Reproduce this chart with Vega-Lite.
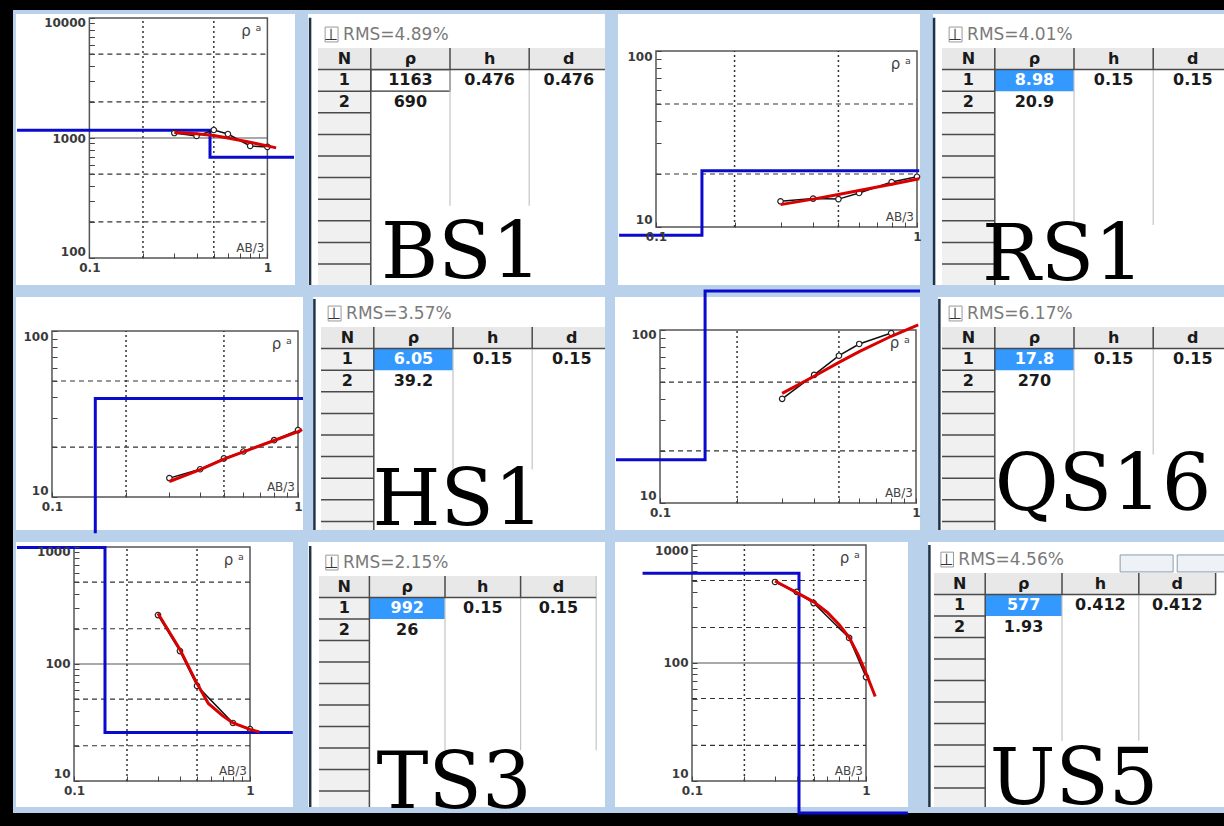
{
"$schema": "https://vega.github.io/schema/vega-lite/v6.json",
"background": "black",
"padding": {"left": 10, "top": 10, "right": 0, "bottom": 13},
"config": {
 "view": {"fill": "#b9d1ea", "stroke": null},
 "axis": {"zindex": 1, "domain": false, "grid": false, "labelFont": "DejaVu Sans", "labelFontWeight": "bold", "labelFontSize": 12, "labelColor": "#3a3a3a", "tickColor": "#444", "labelOverlap": false, "labelBound": false, "labelFlush": false},
 "text": {"font": "DejaVu Sans"}
},
"columns": 4,
"align": "none",
"bounds": "flush",
"spacing": {"row": 0, "column": 0},
"concat": [
 {"width": 290, "height": 281,
  "data": {"values": [
   {"k":"panel","x":0.03869,"x2":1.429,"y":59.57,"y2":10798},
   {"k":"frame","x":0.1,"x2":1,"y":100,"y2":10000},
   {"k":"vg","x":0.2,"y":100,"y2":10000},{"k":"vg","x":0.5,"y":100,"y2":10000},
   {"k":"hg","x":0.1,"x2":1,"y":200},{"k":"hg","x":0.1,"x2":1,"y":500},{"k":"hg","x":0.1,"x2":1,"y":2000},{"k":"hg","x":0.1,"x2":1,"y":5000},
   {"k":"hs","x":0.1,"x2":1,"y":1000},
   {"k":"m","i":0,"x":0.0392,"y":1163},{"k":"m","i":1,"x":0.476,"y":1163},{"k":"m","i":2,"x":0.476,"y":690},{"k":"m","i":3,"x":1.411,"y":690},
   {"k":"o","i":0,"x":0.3,"y":1100},{"k":"o","i":1,"x":0.4,"y":1040},{"k":"o","i":2,"x":0.5,"y":1166},{"k":"o","i":3,"x":0.6,"y":1080},{"k":"o","i":4,"x":0.8,"y":858},{"k":"o","i":5,"x":1,"y":842},
   {"k":"c","i":0,"x":0.3,"y":1110},{"k":"c","i":1,"x":0.4,"y":1085},{"k":"c","i":2,"x":0.5,"y":1050},{"k":"c","i":3,"x":0.6,"y":1000},{"k":"c","i":4,"x":0.8,"y":920},{"k":"c","i":5,"x":1,"y":860},{"k":"c","i":6,"x":1.12,"y":827},
   {"k":"rho","x":1,"y":10000,"t":"ρ ᵃ"},{"k":"ab","x":1,"y":100,"t":"AB/3"}
  ]},
  "encoding": {
   "x": {"field":"x","type":"quantitative","scale":{"type":"log","domain":[0.03723,1.5849],"nice":false,"clamp":true},
     "axis":{"zindex":2,"values":[0.1,0.2,0.3,0.4,0.5,0.6,0.7,0.8,0.9,1],"labelExpr":"datum.value==0.1?'0.1':datum.value==1?'1':''","offset":-33,"tickSize":-5,"labelPadding":9,"title":null}},
   "y": {"field":"y","type":"quantitative","scale":{"type":"log","domain":[53.09,11659],"nice":false,"clamp":true},
     "axis":{"zindex":2,"values":[100,200,300,400,500,600,700,800,900,1000,2000,3000,4000,5000,6000,7000,8000,9000,10000],"labelExpr":"indexof([10,100,1000,10000],datum.value)>=0?format(datum.value,'d'):''","offset":-76.4,"tickSize":-5,"labelPadding":9,"title":null,
       "labelBaseline":{"condition":[{"test":"datum.value==10000","value":"top"},{"test":"datum.value==100","value":"bottom"}],"value":"middle"}}}
  },
  "layer": [
   {"transform":[{"filter":"datum.k=='panel'"}],"mark":{"type":"rect","color":"white","zindex":0},"encoding":{"x2":{"field":"x2"},"y2":{"field":"y2"}}},
   {"transform":[{"filter":"datum.k=='frame'"}],"mark":{"type":"rect","filled":false,"color":"#555","strokeWidth":1.5},"encoding":{"x2":{"field":"x2"},"y2":{"field":"y2"}}},
   {"transform":[{"filter":"datum.k=='vg'"}],"mark":{"type":"rule","color":"#333","strokeWidth":1.5,"strokeDash":[2,3]},"encoding":{"y2":{"field":"y2"}}},
   {"transform":[{"filter":"datum.k=='hg'"}],"mark":{"type":"rule","color":"#333","strokeWidth":1.2,"strokeDash":[5,4]},"encoding":{"x2":{"field":"x2"}}},
   {"transform":[{"filter":"datum.k=='hs'"}],"mark":{"type":"rule","color":"#555","strokeWidth":1.2},"encoding":{"x2":{"field":"x2"}}},
   {"transform":[{"filter":"datum.k=='m'"}],"mark":{"type":"line","color":"#0a0acc","strokeWidth":3},"encoding":{"order":{"field":"i","type":"quantitative"}}},
   {"transform":[{"filter":"datum.k=='o'"}],"mark":{"type":"line","color":"#111","strokeWidth":1.5},"encoding":{"order":{"field":"i","type":"quantitative"}}},
   {"transform":[{"filter":"datum.k=='o'"}],"mark":{"type":"point","shape":"circle","filled":true,"fill":"white","stroke":"#222","strokeWidth":1.2,"size":30,"opacity":1}},
   {"transform":[{"filter":"datum.k=='c'"}],"mark":{"type":"line","color":"#d80000","strokeWidth":3},"encoding":{"order":{"field":"i","type":"quantitative"}}},
   {"transform":[{"filter":"datum.k=='rho'"}],"mark":{"type":"text","align":"right","baseline":"top","dx":-6,"dy":6,"fontSize":15,"color":"#444"},"encoding":{"text":{"field":"t"}}},
   {"transform":[{"filter":"datum.k=='ab'"}],"mark":{"type":"text","align":"right","baseline":"bottom","dx":-3,"dy":-3,"fontSize":12,"color":"#444"},"encoding":{"text":{"field":"t"}}}
  ]},
 {"width": 307, "height": 281,
  "data": {"values": [
   {"k":"panel","x":-0.379,"x2":10.871,"y":-1.574,"y2":10.972},
   {"k":"hbg","x":0,"x2":10.87,"y":0,"y2":1},{"k":"nbg","x":0,"x2":2,"y":1,"y2":10.97},
   {"k":"focus","x":2,"x2":5,"y":1,"y2":2},
   {"k":"tb","x":0.27,"x2":0.76,"y":-0.97,"y2":-0.28},
   {"k":"lt","x":5,"x2":5,"y":1,"y2":7.3},{"k":"lt","x":8,"x2":8,"y":1,"y2":7.3},
   {"k":"dk","x":0,"x2":10.87,"y":1,"y2":1},{"k":"dk","x":2,"x2":2,"y":0,"y2":10.97},{"k":"dk","x":5,"x2":5,"y":0,"y2":1},{"k":"dk","x":8,"x2":8,"y":0,"y2":1},
   {"k":"dk","x":0,"x2":2,"y":2,"y2":2},{"k":"dk","x":0,"x2":2,"y":3,"y2":3},{"k":"dk","x":0,"x2":2,"y":4,"y2":4},{"k":"dk","x":0,"x2":2,"y":5,"y2":5},{"k":"dk","x":0,"x2":2,"y":6,"y2":6},{"k":"dk","x":0,"x2":2,"y":7,"y2":7},{"k":"dk","x":0,"x2":2,"y":8,"y2":8},{"k":"dk","x":0,"x2":2,"y":9,"y2":9},{"k":"dk","x":0,"x2":2,"y":10,"y2":10},
   {"k":"bd","x":-0.3,"x2":-0.3,"y":-1.4,"y2":10.97},
   {"k":"tsym","x":0.5,"y":-0.6,"t":"⊥"},{"k":"ttl","x":0.95,"y":-0.6,"t":"RMS=4.89%"},
   {"k":"hd","x":1,"y":0.5,"t":"N"},{"k":"hd","x":3.5,"y":0.5,"t":"ρ"},{"k":"hd","x":6.5,"y":0.5,"t":"h"},{"k":"hd","x":9.5,"y":0.5,"t":"d"},
   {"k":"cl","x":1,"y":1.5,"t":"1"},{"k":"cl","x":3.5,"y":1.5,"t":"1163"},{"k":"cl","x":6.5,"y":1.5,"t":"0.476"},{"k":"cl","x":9.5,"y":1.5,"t":"0.476"},
   {"k":"cl","x":1,"y":2.5,"t":"2"},{"k":"cl","x":3.5,"y":2.5,"t":"690"},
   {"k":"big","x":5.42,"y":10.65,"t":"BS1"}
  ]},
  "encoding": {
   "x": {"field":"x","type":"quantitative","scale":{"domain":[-0.568,11.061],"nice":false,"zero":false},"axis":null},
   "y": {"field":"y","type":"quantitative","scale":{"domain":[-1.759,11.25],"nice":false,"zero":false,"reverse":true},"axis":null}
  },
  "layer": [
   {"transform":[{"filter":"datum.k=='panel'"}],"mark":{"type":"rect","color":"white","clip":true},"encoding":{"x2":{"field":"x2"},"y2":{"field":"y2"}}},
   {"transform":[{"filter":"datum.k=='hbg'"}],"mark":{"type":"rect","color":"#e8e8e8","clip":true},"encoding":{"x2":{"field":"x2"},"y2":{"field":"y2"}}},
   {"transform":[{"filter":"datum.k=='nbg'"}],"mark":{"type":"rect","color":"#f0f0f0","clip":true},"encoding":{"x2":{"field":"x2"},"y2":{"field":"y2"}}},
   {"transform":[{"filter":"datum.k=='hl'"}],"mark":{"type":"rect","color":"#3399ff"},"encoding":{"x2":{"field":"x2"},"y2":{"field":"y2"}}},
   {"transform":[{"filter":"datum.k=='focus'"}],"mark":{"type":"rect","filled":false,"color":"#333","strokeWidth":1.2},"encoding":{"x2":{"field":"x2"},"y2":{"field":"y2"}}},
   {"transform":[{"filter":"datum.k=='tb'"}],"mark":{"type":"rect","fill":"white","stroke":"#999","strokeWidth":1},"encoding":{"x2":{"field":"x2"},"y2":{"field":"y2"}}},
   {"transform":[{"filter":"datum.k=='btn'"}],"mark":{"type":"rect","fill":"#eef2f7","stroke":"#8a9bb0","strokeWidth":1,"clip":true},"encoding":{"x2":{"field":"x2"},"y2":{"field":"y2"}}},
   {"transform":[{"filter":"datum.k=='lt'"}],"mark":{"type":"rule","color":"#c4c4c4","strokeWidth":1.2,"clip":true},"encoding":{"x2":{"field":"x2"},"y2":{"field":"y2"}}},
   {"transform":[{"filter":"datum.k=='dk'"}],"mark":{"type":"rule","color":"#4a4a4a","strokeWidth":1.5,"clip":true},"encoding":{"x2":{"field":"x2"},"y2":{"field":"y2"}}},
   {"transform":[{"filter":"datum.k=='bd'"}],"mark":{"type":"rule","color":"#1e3348","strokeWidth":2.5},"encoding":{"x2":{"field":"x2"},"y2":{"field":"y2"}}},
   {"transform":[{"filter":"datum.k=='tsym'"}],"mark":{"type":"text","fontSize":16,"color":"#333"},"encoding":{"text":{"field":"t"}}},
   {"transform":[{"filter":"datum.k=='ttl'"}],"mark":{"type":"text","align":"left","fontSize":17,"color":"#7a7a7a"},"encoding":{"text":{"field":"t"}}},
   {"transform":[{"filter":"datum.k=='hd'||datum.k=='cl'"}],"mark":{"type":"text","fontSize":16,"fontWeight":"bold","color":"#1a1a1a"},"encoding":{"text":{"field":"t"}}},
   {"transform":[{"filter":"datum.k=='clw'"}],"mark":{"type":"text","fontSize":16,"fontWeight":"bold","color":"white"},"encoding":{"text":{"field":"t"}}},
   {"transform":[{"filter":"datum.k=='big'"}],"mark":{"type":"text","font":"DejaVu Serif","fontSize":78,"baseline":"alphabetic","color":"black"},"encoding":{"text":{"field":"t"}}}
  ]},
 {"width": 314, "height": 281,
  "data": {"values": [
   {"k":"panel","x":0.07152,"x2":1.0268,"y":4.683,"y2":162.3},
   {"k":"frame","x":0.1,"x2":1,"y":10,"y2":100},
   {"k":"vg","x":0.2,"y":10,"y2":100},{"k":"vg","x":0.5,"y":10,"y2":100},
   {"k":"hg","x":0.1,"x2":1,"y":20},{"k":"hg","x":0.1,"x2":1,"y":50},
   {"k":"m","i":0,"x":0.0722,"y":8.98},{"k":"m","i":1,"x":0.15,"y":8.98},{"k":"m","i":2,"x":0.15,"y":20.9},{"k":"m","i":3,"x":1.02,"y":20.9},
   {"k":"o","i":0,"x":0.3,"y":14.0},{"k":"o","i":1,"x":0.4,"y":14.5},{"k":"o","i":2,"x":0.5,"y":14.4},{"k":"o","i":3,"x":0.6,"y":15.6},{"k":"o","i":4,"x":0.8,"y":18.0},{"k":"o","i":5,"x":1,"y":19.3},
   {"k":"c","i":0,"x":0.3,"y":13.4},{"k":"c","i":1,"x":0.4,"y":14.4},{"k":"c","i":2,"x":0.5,"y":15.3},{"k":"c","i":3,"x":0.6,"y":16.1},{"k":"c","i":4,"x":0.8,"y":17.5},{"k":"c","i":5,"x":1.02,"y":18.8},
   {"k":"rho","x":1,"y":100,"t":"ρ ᵃ"},{"k":"ab","x":1,"y":10,"t":"AB/3"}
  ]},
  "encoding": {
   "x": {"field":"x","type":"quantitative","scale":{"type":"log","domain":[0.06665,1.0637],"nice":false,"clamp":true},
     "axis":{"zindex":2,"values":[0.1,0.2,0.3,0.4,0.5,0.6,0.7,0.8,0.9,1],"labelExpr":"datum.value==0.1?'0.1':datum.value==1?'1':''","offset":-64,"tickSize":-5,"labelPadding":9,"title":null}},
   "y": {"field":"y","type":"quantitative","scale":{"type":"log","domain":[4.328,171.0],"nice":false,"clamp":true},
     "axis":{"zindex":2,"values":[10,20,30,40,50,60,70,80,90,100],"labelExpr":"indexof([10,100,1000,10000],datum.value)>=0?format(datum.value,'d'):''","offset":-46,"tickSize":-5,"labelPadding":9,"title":null,
       "labelBaseline":{"condition":[{"test":"datum.value==100","value":"top"},{"test":"datum.value==10","value":"bottom"}],"value":"middle"}}}
  },
  "layer": [
   {"transform":[{"filter":"datum.k=='panel'"}],"mark":{"type":"rect","color":"white","zindex":0},"encoding":{"x2":{"field":"x2"},"y2":{"field":"y2"}}},
   {"transform":[{"filter":"datum.k=='frame'"}],"mark":{"type":"rect","filled":false,"color":"#555","strokeWidth":1.5},"encoding":{"x2":{"field":"x2"},"y2":{"field":"y2"}}},
   {"transform":[{"filter":"datum.k=='vg'"}],"mark":{"type":"rule","color":"#333","strokeWidth":1.5,"strokeDash":[2,3]},"encoding":{"y2":{"field":"y2"}}},
   {"transform":[{"filter":"datum.k=='hg'"}],"mark":{"type":"rule","color":"#333","strokeWidth":1.2,"strokeDash":[5,4]},"encoding":{"x2":{"field":"x2"}}},
   {"transform":[{"filter":"datum.k=='m'"}],"mark":{"type":"line","color":"#0a0acc","strokeWidth":3},"encoding":{"order":{"field":"i","type":"quantitative"}}},
   {"transform":[{"filter":"datum.k=='o'"}],"mark":{"type":"line","color":"#111","strokeWidth":1.5},"encoding":{"order":{"field":"i","type":"quantitative"}}},
   {"transform":[{"filter":"datum.k=='o'"}],"mark":{"type":"point","shape":"circle","filled":true,"fill":"white","stroke":"#222","strokeWidth":1.2,"size":30,"opacity":1}},
   {"transform":[{"filter":"datum.k=='c'"}],"mark":{"type":"line","color":"#d80000","strokeWidth":3},"encoding":{"order":{"field":"i","type":"quantitative"}}},
   {"transform":[{"filter":"datum.k=='rho'"}],"mark":{"type":"text","align":"right","baseline":"top","dx":-6,"dy":6,"fontSize":15,"color":"#444"},"encoding":{"text":{"field":"t"}}},
   {"transform":[{"filter":"datum.k=='ab'"}],"mark":{"type":"text","align":"right","baseline":"bottom","dx":-3,"dy":-3,"fontSize":12,"color":"#444"},"encoding":{"text":{"field":"t"}}}
  ]},
 {"width": 303, "height": 281,
  "data": {"values": [
   {"k":"panel","x":-0.341,"x2":11,"y":-1.574,"y2":10.972},
   {"k":"hbg","x":0,"x2":11,"y":0,"y2":1},{"k":"nbg","x":0,"x2":2,"y":1,"y2":10.97},
   {"k":"hl","x":2,"x2":5,"y":1,"y2":2},
   {"k":"tb","x":0.27,"x2":0.76,"y":-0.97,"y2":-0.28},
   {"k":"lt","x":5,"x2":5,"y":1,"y2":8.2},{"k":"lt","x":8,"x2":8,"y":1,"y2":8.2},
   {"k":"dk","x":0,"x2":11,"y":1,"y2":1},{"k":"dk","x":2,"x2":2,"y":0,"y2":10.97},{"k":"dk","x":5,"x2":5,"y":0,"y2":1},{"k":"dk","x":8,"x2":8,"y":0,"y2":1},
   {"k":"dk","x":0,"x2":2,"y":2,"y2":2},{"k":"dk","x":0,"x2":2,"y":3,"y2":3},{"k":"dk","x":0,"x2":2,"y":4,"y2":4},{"k":"dk","x":0,"x2":2,"y":5,"y2":5},{"k":"dk","x":0,"x2":2,"y":6,"y2":6},{"k":"dk","x":0,"x2":2,"y":7,"y2":7},{"k":"dk","x":0,"x2":2,"y":8,"y2":8},{"k":"dk","x":0,"x2":2,"y":9,"y2":9},{"k":"dk","x":0,"x2":2,"y":10,"y2":10},
   {"k":"bd","x":-0.3,"x2":-0.3,"y":-1.4,"y2":10.97},
   {"k":"tsym","x":0.5,"y":-0.6,"t":"⊥"},{"k":"ttl","x":0.95,"y":-0.6,"t":"RMS=4.01%"},
   {"k":"hd","x":1,"y":0.5,"t":"N"},{"k":"hd","x":3.5,"y":0.5,"t":"ρ"},{"k":"hd","x":6.5,"y":0.5,"t":"h"},{"k":"hd","x":9.5,"y":0.5,"t":"d"},
   {"k":"cl","x":1,"y":1.5,"t":"1"},{"k":"clw","x":3.5,"y":1.5,"t":"8.98"},{"k":"cl","x":6.5,"y":1.5,"t":"0.15"},{"k":"cl","x":9.5,"y":1.5,"t":"0.15"},
   {"k":"cl","x":1,"y":2.5,"t":"2"},{"k":"cl","x":3.5,"y":2.5,"t":"20.9"},
   {"k":"big","x":4.58,"y":10.74,"t":"RS1"}
  ]},
  "encoding": {
   "x": {"field":"x","type":"quantitative","scale":{"domain":[-0.682,10.795],"nice":false,"zero":false},"axis":null},
   "y": {"field":"y","type":"quantitative","scale":{"domain":[-1.759,11.25],"nice":false,"zero":false,"reverse":true},"axis":null}
  },
  "layer": [
   {"transform":[{"filter":"datum.k=='panel'"}],"mark":{"type":"rect","color":"white","clip":true},"encoding":{"x2":{"field":"x2"},"y2":{"field":"y2"}}},
   {"transform":[{"filter":"datum.k=='hbg'"}],"mark":{"type":"rect","color":"#e8e8e8","clip":true},"encoding":{"x2":{"field":"x2"},"y2":{"field":"y2"}}},
   {"transform":[{"filter":"datum.k=='nbg'"}],"mark":{"type":"rect","color":"#f0f0f0","clip":true},"encoding":{"x2":{"field":"x2"},"y2":{"field":"y2"}}},
   {"transform":[{"filter":"datum.k=='hl'"}],"mark":{"type":"rect","color":"#3399ff"},"encoding":{"x2":{"field":"x2"},"y2":{"field":"y2"}}},
   {"transform":[{"filter":"datum.k=='focus'"}],"mark":{"type":"rect","filled":false,"color":"#333","strokeWidth":1.2},"encoding":{"x2":{"field":"x2"},"y2":{"field":"y2"}}},
   {"transform":[{"filter":"datum.k=='tb'"}],"mark":{"type":"rect","fill":"white","stroke":"#999","strokeWidth":1},"encoding":{"x2":{"field":"x2"},"y2":{"field":"y2"}}},
   {"transform":[{"filter":"datum.k=='btn'"}],"mark":{"type":"rect","fill":"#eef2f7","stroke":"#8a9bb0","strokeWidth":1,"clip":true},"encoding":{"x2":{"field":"x2"},"y2":{"field":"y2"}}},
   {"transform":[{"filter":"datum.k=='lt'"}],"mark":{"type":"rule","color":"#c4c4c4","strokeWidth":1.2,"clip":true},"encoding":{"x2":{"field":"x2"},"y2":{"field":"y2"}}},
   {"transform":[{"filter":"datum.k=='dk'"}],"mark":{"type":"rule","color":"#4a4a4a","strokeWidth":1.5,"clip":true},"encoding":{"x2":{"field":"x2"},"y2":{"field":"y2"}}},
   {"transform":[{"filter":"datum.k=='bd'"}],"mark":{"type":"rule","color":"#1e3348","strokeWidth":2.5},"encoding":{"x2":{"field":"x2"},"y2":{"field":"y2"}}},
   {"transform":[{"filter":"datum.k=='tsym'"}],"mark":{"type":"text","fontSize":16,"color":"#333"},"encoding":{"text":{"field":"t"}}},
   {"transform":[{"filter":"datum.k=='ttl'"}],"mark":{"type":"text","align":"left","fontSize":17,"color":"#7a7a7a"},"encoding":{"text":{"field":"t"}}},
   {"transform":[{"filter":"datum.k=='hd'||datum.k=='cl'"}],"mark":{"type":"text","fontSize":16,"fontWeight":"bold","color":"#1a1a1a"},"encoding":{"text":{"field":"t"}}},
   {"transform":[{"filter":"datum.k=='clw'"}],"mark":{"type":"text","fontSize":16,"fontWeight":"bold","color":"white"},"encoding":{"text":{"field":"t"}}},
   {"transform":[{"filter":"datum.k=='big'"}],"mark":{"type":"text","font":"DejaVu Serif","fontSize":78,"baseline":"alphabetic","color":"black"},"encoding":{"text":{"field":"t"}}}
  ]},
 {"width": 290, "height": 245,
  "data": {"values": [
   {"k":"panel","x":0.07141,"x2":1.0479,"y":6.327,"y2":160.2},
   {"k":"frame","x":0.1,"x2":1,"y":10,"y2":100},
   {"k":"vg","x":0.2,"y":10,"y2":100},{"k":"vg","x":0.5,"y":10,"y2":100},
   {"k":"hg","x":0.1,"x2":1,"y":20},{"k":"hg","x":0.1,"x2":1,"y":50},
   {"k":"m","i":1,"x":0.15,"y":6.05},{"k":"m","i":2,"x":0.15,"y":39.2},{"k":"m","i":3,"x":1.048,"y":39.2},
   {"k":"o","i":0,"x":0.3,"y":13.0},{"k":"o","i":1,"x":0.4,"y":14.7},{"k":"o","i":2,"x":0.5,"y":17.1},{"k":"o","i":3,"x":0.6,"y":18.8},{"k":"o","i":4,"x":0.8,"y":22.0},{"k":"o","i":5,"x":1,"y":25.3},
   {"k":"c","i":0,"x":0.3,"y":12.4},{"k":"c","i":1,"x":0.4,"y":14.6},{"k":"c","i":2,"x":0.5,"y":16.9},{"k":"c","i":3,"x":0.6,"y":18.7},{"k":"c","i":4,"x":0.8,"y":21.9},{"k":"c","i":5,"x":1,"y":24.8},{"k":"c","i":6,"x":1.04,"y":25.5},
   {"k":"rho","x":1,"y":100,"t":"ρ ᵃ"},{"k":"ab","x":1,"y":10,"t":"AB/3"}
  ]},
  "encoding": {
   "x": {"field":"x","type":"quantitative","scale":{"type":"log","domain":[0.06943,1.0479],"nice":false,"clamp":true},
     "axis":{"zindex":2,"values":[0.1,0.2,0.3,0.4,0.5,0.6,0.7,0.8,0.9,1],"labelExpr":"datum.value==0.1?'0.1':datum.value==1?'1':''","offset":-39,"tickSize":-5,"labelPadding":9,"title":null}},
   "y": {"field":"y","type":"quantitative","scale":{"type":"log","domain":[5.823,174.2],"nice":false,"clamp":true},
     "axis":{"zindex":2,"values":[10,20,30,40,50,60,70,80,90,100],"labelExpr":"indexof([10,100,1000,10000],datum.value)>=0?format(datum.value,'d'):''","offset":-39,"tickSize":-5,"labelPadding":9,"title":null,
       "labelBaseline":{"condition":[{"test":"datum.value==100","value":"top"},{"test":"datum.value==10","value":"bottom"}],"value":"middle"}}}
  },
  "layer": [
   {"transform":[{"filter":"datum.k=='panel'"}],"mark":{"type":"rect","color":"white","zindex":0},"encoding":{"x2":{"field":"x2"},"y2":{"field":"y2"}}},
   {"transform":[{"filter":"datum.k=='frame'"}],"mark":{"type":"rect","filled":false,"color":"#555","strokeWidth":1.5},"encoding":{"x2":{"field":"x2"},"y2":{"field":"y2"}}},
   {"transform":[{"filter":"datum.k=='vg'"}],"mark":{"type":"rule","color":"#333","strokeWidth":1.5,"strokeDash":[2,3]},"encoding":{"y2":{"field":"y2"}}},
   {"transform":[{"filter":"datum.k=='hg'"}],"mark":{"type":"rule","color":"#333","strokeWidth":1.2,"strokeDash":[5,4]},"encoding":{"x2":{"field":"x2"}}},
   {"transform":[{"filter":"datum.k=='m'"}],"mark":{"type":"line","color":"#0a0acc","strokeWidth":3},"encoding":{"order":{"field":"i","type":"quantitative"}}},
   {"transform":[{"filter":"datum.k=='o'"}],"mark":{"type":"line","color":"#111","strokeWidth":1.5},"encoding":{"order":{"field":"i","type":"quantitative"}}},
   {"transform":[{"filter":"datum.k=='o'"}],"mark":{"type":"point","shape":"circle","filled":true,"fill":"white","stroke":"#222","strokeWidth":1.2,"size":30,"opacity":1}},
   {"transform":[{"filter":"datum.k=='c'"}],"mark":{"type":"line","color":"#d80000","strokeWidth":3},"encoding":{"order":{"field":"i","type":"quantitative"}}},
   {"transform":[{"filter":"datum.k=='rho'"}],"mark":{"type":"text","align":"right","baseline":"top","dx":-6,"dy":6,"fontSize":15,"color":"#444"},"encoding":{"text":{"field":"t"}}},
   {"transform":[{"filter":"datum.k=='ab'"}],"mark":{"type":"text","align":"right","baseline":"bottom","dx":-3,"dy":-3,"fontSize":12,"color":"#444"},"encoding":{"text":{"field":"t"}}}
  ]},
 {"width": 307, "height": 245,
  "data": {"values": [
   {"k":"panel","x":-0.303,"x2":10.758,"y":-1.389,"y2":9.398},
   {"k":"hbg","x":0,"x2":10.76,"y":0,"y2":1},{"k":"nbg","x":0,"x2":2,"y":1,"y2":9.398},
   {"k":"hl","x":2,"x2":5,"y":1,"y2":2},
   {"k":"tb","x":0.27,"x2":0.76,"y":-0.97,"y2":-0.28},
   {"k":"lt","x":5,"x2":5,"y":1,"y2":6.6},{"k":"lt","x":8,"x2":8,"y":1,"y2":6.6},
   {"k":"dk","x":0,"x2":10.76,"y":1,"y2":1},{"k":"dk","x":2,"x2":2,"y":0,"y2":9.398},{"k":"dk","x":5,"x2":5,"y":0,"y2":1},{"k":"dk","x":8,"x2":8,"y":0,"y2":1},
   {"k":"dk","x":0,"x2":2,"y":2,"y2":2},{"k":"dk","x":0,"x2":2,"y":3,"y2":3},{"k":"dk","x":0,"x2":2,"y":4,"y2":4},{"k":"dk","x":0,"x2":2,"y":5,"y2":5},{"k":"dk","x":0,"x2":2,"y":6,"y2":6},{"k":"dk","x":0,"x2":2,"y":7,"y2":7},{"k":"dk","x":0,"x2":2,"y":8,"y2":8},{"k":"dk","x":0,"x2":2,"y":9,"y2":9},
   {"k":"bd","x":-0.25,"x2":-0.25,"y":-1.3,"y2":9.398},
   {"k":"tsym","x":0.5,"y":-0.6,"t":"⊥"},{"k":"ttl","x":0.95,"y":-0.6,"t":"RMS=3.57%"},
   {"k":"hd","x":1,"y":0.5,"t":"N"},{"k":"hd","x":3.5,"y":0.5,"t":"ρ"},{"k":"hd","x":6.5,"y":0.5,"t":"h"},{"k":"hd","x":9.5,"y":0.5,"t":"d"},
   {"k":"cl","x":1,"y":1.5,"t":"1"},{"k":"clw","x":3.5,"y":1.5,"t":"6.05"},{"k":"cl","x":6.5,"y":1.5,"t":"0.15"},{"k":"cl","x":9.5,"y":1.5,"t":"0.15"},
   {"k":"cl","x":1,"y":2.5,"t":"2"},{"k":"cl","x":3.5,"y":2.5,"t":"39.2"},
   {"k":"big","x":5.19,"y":9.17,"t":"HS1"}
  ]},
  "encoding": {
   "x": {"field":"x","type":"quantitative","scale":{"domain":[-0.682,10.947],"nice":false,"zero":false},"axis":null},
   "y": {"field":"y","type":"quantitative","scale":{"domain":[-1.667,9.676],"nice":false,"zero":false,"reverse":true},"axis":null}
  },
  "layer": [
   {"transform":[{"filter":"datum.k=='panel'"}],"mark":{"type":"rect","color":"white","clip":true},"encoding":{"x2":{"field":"x2"},"y2":{"field":"y2"}}},
   {"transform":[{"filter":"datum.k=='hbg'"}],"mark":{"type":"rect","color":"#e8e8e8","clip":true},"encoding":{"x2":{"field":"x2"},"y2":{"field":"y2"}}},
   {"transform":[{"filter":"datum.k=='nbg'"}],"mark":{"type":"rect","color":"#f0f0f0","clip":true},"encoding":{"x2":{"field":"x2"},"y2":{"field":"y2"}}},
   {"transform":[{"filter":"datum.k=='hl'"}],"mark":{"type":"rect","color":"#3399ff"},"encoding":{"x2":{"field":"x2"},"y2":{"field":"y2"}}},
   {"transform":[{"filter":"datum.k=='focus'"}],"mark":{"type":"rect","filled":false,"color":"#333","strokeWidth":1.2},"encoding":{"x2":{"field":"x2"},"y2":{"field":"y2"}}},
   {"transform":[{"filter":"datum.k=='tb'"}],"mark":{"type":"rect","fill":"white","stroke":"#999","strokeWidth":1},"encoding":{"x2":{"field":"x2"},"y2":{"field":"y2"}}},
   {"transform":[{"filter":"datum.k=='btn'"}],"mark":{"type":"rect","fill":"#eef2f7","stroke":"#8a9bb0","strokeWidth":1,"clip":true},"encoding":{"x2":{"field":"x2"},"y2":{"field":"y2"}}},
   {"transform":[{"filter":"datum.k=='lt'"}],"mark":{"type":"rule","color":"#c4c4c4","strokeWidth":1.2,"clip":true},"encoding":{"x2":{"field":"x2"},"y2":{"field":"y2"}}},
   {"transform":[{"filter":"datum.k=='dk'"}],"mark":{"type":"rule","color":"#4a4a4a","strokeWidth":1.5,"clip":true},"encoding":{"x2":{"field":"x2"},"y2":{"field":"y2"}}},
   {"transform":[{"filter":"datum.k=='bd'"}],"mark":{"type":"rule","color":"#1e3348","strokeWidth":2.5},"encoding":{"x2":{"field":"x2"},"y2":{"field":"y2"}}},
   {"transform":[{"filter":"datum.k=='tsym'"}],"mark":{"type":"text","fontSize":16,"color":"#333"},"encoding":{"text":{"field":"t"}}},
   {"transform":[{"filter":"datum.k=='ttl'"}],"mark":{"type":"text","align":"left","fontSize":17,"color":"#7a7a7a"},"encoding":{"text":{"field":"t"}}},
   {"transform":[{"filter":"datum.k=='hd'||datum.k=='cl'"}],"mark":{"type":"text","fontSize":16,"fontWeight":"bold","color":"#1a1a1a"},"encoding":{"text":{"field":"t"}}},
   {"transform":[{"filter":"datum.k=='clw'"}],"mark":{"type":"text","fontSize":16,"fontWeight":"bold","color":"white"},"encoding":{"text":{"field":"t"}}},
   {"transform":[{"filter":"datum.k=='big'"}],"mark":{"type":"text","font":"DejaVu Serif","fontSize":78,"baseline":"alphabetic","color":"black"},"encoding":{"text":{"field":"t"}}}
  ]},
 {"width": 314, "height": 245,
  "data": {"values": [
   {"k":"panel","x":0.06672,"x2":1.0366,"y":6.982,"y2":155.1},
   {"k":"frame","x":0.1,"x2":1,"y":10,"y2":100},
   {"k":"vg","x":0.2,"y":10,"y2":100},{"k":"vg","x":0.5,"y":10,"y2":100},
   {"k":"hg","x":0.1,"x2":1,"y":20},{"k":"hg","x":0.1,"x2":1,"y":50},
   {"k":"m","i":0,"x":0.06733,"y":17.8},{"k":"m","i":1,"x":0.15,"y":17.8},{"k":"m","i":2,"x":0.15,"y":270},{"k":"m","i":3,"x":1.0366,"y":270},
   {"k":"o","i":0,"x":0.3,"y":40},{"k":"o","i":1,"x":0.4,"y":55},{"k":"o","i":2,"x":0.5,"y":71},{"k":"o","i":3,"x":0.6,"y":83},{"k":"o","i":4,"x":0.8,"y":96},
   {"k":"c","i":0,"x":0.3,"y":43},{"k":"c","i":1,"x":0.4,"y":54},{"k":"c","i":2,"x":0.5,"y":65},{"k":"c","i":3,"x":0.6,"y":75},{"k":"c","i":4,"x":0.8,"y":92},{"k":"c","i":5,"x":1.02,"y":107},
   {"k":"rho","x":1,"y":100,"t":"ρ ᵃ"},{"k":"ab","x":1,"y":10,"t":"AB/3"}
  ]},
  "encoding": {
   "x": {"field":"x","type":"quantitative","scale":{"type":"log","domain":[0.06378,1.0746],"nice":false,"clamp":true},
     "axis":{"zindex":2,"values":[0.1,0.2,0.3,0.4,0.5,0.6,0.7,0.8,0.9,1],"labelExpr":"datum.value==0.1?'0.1':datum.value==1?'1':''","offset":-33,"tickSize":-5,"labelPadding":9,"title":null}},
   "y": {"field":"y","type":"quantitative","scale":{"type":"log","domain":[6.445,168.0],"nice":false,"clamp":true},
     "axis":{"zindex":2,"values":[10,20,30,40,50,60,70,80,90,100],"labelExpr":"indexof([10,100,1000,10000],datum.value)>=0?format(datum.value,'d'):''","offset":-50,"tickSize":-5,"labelPadding":9,"title":null,
       "labelBaseline":{"condition":[{"test":"datum.value==100","value":"top"},{"test":"datum.value==10","value":"bottom"}],"value":"middle"}}}
  },
  "layer": [
   {"transform":[{"filter":"datum.k=='panel'"}],"mark":{"type":"rect","color":"white","zindex":0},"encoding":{"x2":{"field":"x2"},"y2":{"field":"y2"}}},
   {"transform":[{"filter":"datum.k=='frame'"}],"mark":{"type":"rect","filled":false,"color":"#555","strokeWidth":1.5},"encoding":{"x2":{"field":"x2"},"y2":{"field":"y2"}}},
   {"transform":[{"filter":"datum.k=='vg'"}],"mark":{"type":"rule","color":"#333","strokeWidth":1.5,"strokeDash":[2,3]},"encoding":{"y2":{"field":"y2"}}},
   {"transform":[{"filter":"datum.k=='hg'"}],"mark":{"type":"rule","color":"#333","strokeWidth":1.2,"strokeDash":[5,4]},"encoding":{"x2":{"field":"x2"}}},
   {"transform":[{"filter":"datum.k=='m'"}],"mark":{"type":"line","color":"#0a0acc","strokeWidth":3},"encoding":{"order":{"field":"i","type":"quantitative"}}},
   {"transform":[{"filter":"datum.k=='o'"}],"mark":{"type":"line","color":"#111","strokeWidth":1.5},"encoding":{"order":{"field":"i","type":"quantitative"}}},
   {"transform":[{"filter":"datum.k=='o'"}],"mark":{"type":"point","shape":"circle","filled":true,"fill":"white","stroke":"#222","strokeWidth":1.2,"size":30,"opacity":1}},
   {"transform":[{"filter":"datum.k=='c'"}],"mark":{"type":"line","color":"#d80000","strokeWidth":3},"encoding":{"order":{"field":"i","type":"quantitative"}}},
   {"transform":[{"filter":"datum.k=='rho'"}],"mark":{"type":"text","align":"right","baseline":"top","dx":-6,"dy":6,"fontSize":15,"color":"#444"},"encoding":{"text":{"field":"t"}}},
   {"transform":[{"filter":"datum.k=='ab'"}],"mark":{"type":"text","align":"right","baseline":"bottom","dx":-3,"dy":-3,"fontSize":12,"color":"#444"},"encoding":{"text":{"field":"t"}}}
  ]},
 {"width": 303, "height": 245,
  "data": {"values": [
   {"k":"panel","x":-0.152,"x2":11,"y":-1.389,"y2":9.398},
   {"k":"hbg","x":0,"x2":11,"y":0,"y2":1},{"k":"nbg","x":0,"x2":2,"y":1,"y2":9.398},
   {"k":"hl","x":2,"x2":5,"y":1,"y2":2},
   {"k":"tb","x":0.27,"x2":0.76,"y":-0.97,"y2":-0.28},
   {"k":"lt","x":5,"x2":5,"y":1,"y2":5.9},{"k":"lt","x":8,"x2":8,"y":1,"y2":5.9},
   {"k":"dk","x":0,"x2":11,"y":1,"y2":1},{"k":"dk","x":2,"x2":2,"y":0,"y2":9.398},{"k":"dk","x":5,"x2":5,"y":0,"y2":1},{"k":"dk","x":8,"x2":8,"y":0,"y2":1},
   {"k":"dk","x":0,"x2":2,"y":2,"y2":2},{"k":"dk","x":0,"x2":2,"y":3,"y2":3},{"k":"dk","x":0,"x2":2,"y":4,"y2":4},{"k":"dk","x":0,"x2":2,"y":5,"y2":5},{"k":"dk","x":0,"x2":2,"y":6,"y2":6},{"k":"dk","x":0,"x2":2,"y":7,"y2":7},{"k":"dk","x":0,"x2":2,"y":8,"y2":8},{"k":"dk","x":0,"x2":2,"y":9,"y2":9},
   {"k":"bd","x":-0.1,"x2":-0.1,"y":-1.3,"y2":9.398},
   {"k":"tsym","x":0.5,"y":-0.6,"t":"⊥"},{"k":"ttl","x":0.95,"y":-0.6,"t":"RMS=6.17%"},
   {"k":"hd","x":1,"y":0.5,"t":"N"},{"k":"hd","x":3.5,"y":0.5,"t":"ρ"},{"k":"hd","x":6.5,"y":0.5,"t":"h"},{"k":"hd","x":9.5,"y":0.5,"t":"d"},
   {"k":"cl","x":1,"y":1.5,"t":"1"},{"k":"clw","x":3.5,"y":1.5,"t":"17.8"},{"k":"cl","x":6.5,"y":1.5,"t":"0.15"},{"k":"cl","x":9.5,"y":1.5,"t":"0.15"},
   {"k":"cl","x":1,"y":2.5,"t":"2"},{"k":"cl","x":3.5,"y":2.5,"t":"270"},
   {"k":"big","x":6.1,"y":8.47,"t":"QS16"}
  ]},
  "encoding": {
   "x": {"field":"x","type":"quantitative","scale":{"domain":[-0.682,10.795],"nice":false,"zero":false},"axis":null},
   "y": {"field":"y","type":"quantitative","scale":{"domain":[-1.667,9.676],"nice":false,"zero":false,"reverse":true},"axis":null}
  },
  "layer": [
   {"transform":[{"filter":"datum.k=='panel'"}],"mark":{"type":"rect","color":"white","clip":true},"encoding":{"x2":{"field":"x2"},"y2":{"field":"y2"}}},
   {"transform":[{"filter":"datum.k=='hbg'"}],"mark":{"type":"rect","color":"#e8e8e8","clip":true},"encoding":{"x2":{"field":"x2"},"y2":{"field":"y2"}}},
   {"transform":[{"filter":"datum.k=='nbg'"}],"mark":{"type":"rect","color":"#f0f0f0","clip":true},"encoding":{"x2":{"field":"x2"},"y2":{"field":"y2"}}},
   {"transform":[{"filter":"datum.k=='hl'"}],"mark":{"type":"rect","color":"#3399ff"},"encoding":{"x2":{"field":"x2"},"y2":{"field":"y2"}}},
   {"transform":[{"filter":"datum.k=='focus'"}],"mark":{"type":"rect","filled":false,"color":"#333","strokeWidth":1.2},"encoding":{"x2":{"field":"x2"},"y2":{"field":"y2"}}},
   {"transform":[{"filter":"datum.k=='tb'"}],"mark":{"type":"rect","fill":"white","stroke":"#999","strokeWidth":1},"encoding":{"x2":{"field":"x2"},"y2":{"field":"y2"}}},
   {"transform":[{"filter":"datum.k=='btn'"}],"mark":{"type":"rect","fill":"#eef2f7","stroke":"#8a9bb0","strokeWidth":1,"clip":true},"encoding":{"x2":{"field":"x2"},"y2":{"field":"y2"}}},
   {"transform":[{"filter":"datum.k=='lt'"}],"mark":{"type":"rule","color":"#c4c4c4","strokeWidth":1.2,"clip":true},"encoding":{"x2":{"field":"x2"},"y2":{"field":"y2"}}},
   {"transform":[{"filter":"datum.k=='dk'"}],"mark":{"type":"rule","color":"#4a4a4a","strokeWidth":1.5,"clip":true},"encoding":{"x2":{"field":"x2"},"y2":{"field":"y2"}}},
   {"transform":[{"filter":"datum.k=='bd'"}],"mark":{"type":"rule","color":"#1e3348","strokeWidth":2.5},"encoding":{"x2":{"field":"x2"},"y2":{"field":"y2"}}},
   {"transform":[{"filter":"datum.k=='tsym'"}],"mark":{"type":"text","fontSize":16,"color":"#333"},"encoding":{"text":{"field":"t"}}},
   {"transform":[{"filter":"datum.k=='ttl'"}],"mark":{"type":"text","align":"left","fontSize":17,"color":"#7a7a7a"},"encoding":{"text":{"field":"t"}}},
   {"transform":[{"filter":"datum.k=='hd'||datum.k=='cl'"}],"mark":{"type":"text","fontSize":16,"fontWeight":"bold","color":"#1a1a1a"},"encoding":{"text":{"field":"t"}}},
   {"transform":[{"filter":"datum.k=='clw'"}],"mark":{"type":"text","fontSize":16,"fontWeight":"bold","color":"white"},"encoding":{"text":{"field":"t"}}},
   {"transform":[{"filter":"datum.k=='big'"}],"mark":{"type":"text","font":"DejaVu Serif","fontSize":78,"baseline":"alphabetic","color":"black"},"encoding":{"text":{"field":"t"}}}
  ]},
 {"width": 290, "height": 277,
  "data": {"values": [
   {"k":"panel","x":0.04683,"x2":1.7552,"y":5.995,"y2":1103.4},
   {"k":"frame","x":0.1,"x2":1,"y":10,"y2":1000},
   {"k":"vg","x":0.2,"y":10,"y2":1000},{"k":"vg","x":0.5,"y":10,"y2":1000},
   {"k":"hg","x":0.1,"x2":1,"y":20},{"k":"hg","x":0.1,"x2":1,"y":50},{"k":"hg","x":0.1,"x2":1,"y":200},{"k":"hg","x":0.1,"x2":1,"y":500},
   {"k":"hs","x":0.1,"x2":1,"y":100},
   {"k":"m","i":0,"x":0.04744,"y":992},{"k":"m","i":1,"x":0.15,"y":992},{"k":"m","i":2,"x":0.15,"y":26},{"k":"m","i":3,"x":1.75,"y":26},
   {"k":"o","i":0,"x":0.3,"y":262},{"k":"o","i":1,"x":0.4,"y":129},{"k":"o","i":2,"x":0.5,"y":65},{"k":"o","i":3,"x":0.8,"y":31.3},{"k":"o","i":4,"x":1,"y":27.8},
   {"k":"c","i":0,"x":0.3,"y":270},{"k":"c","i":1,"x":0.4,"y":133},{"k":"c","i":2,"x":0.5,"y":68},{"k":"c","i":3,"x":0.58,"y":46},{"k":"c","i":4,"x":0.7,"y":36},{"k":"c","i":5,"x":0.8,"y":31.3},{"k":"c","i":6,"x":1,"y":27.6},{"k":"c","i":7,"x":1.13,"y":26.3},
   {"k":"rho","x":1,"y":1000,"t":"ρ ᵃ"},{"k":"ab","x":1,"y":10,"t":"AB/3"}
  ]},
  "encoding": {
   "x": {"field":"x","type":"quantitative","scale":{"type":"log","domain":[0.04502,2.0003],"nice":false,"clamp":true},
     "axis":{"zindex":2,"values":[0.1,0.2,0.3,0.4,0.5,0.6,0.7,0.8,0.9,1],"labelExpr":"datum.value==0.1?'0.1':datum.value==1?'1':''","offset":-32,"tickSize":-5,"labelPadding":9,"title":null}},
   "y": {"field":"y","type":"quantitative","scale":{"type":"log","domain":[5.326,1241.6],"nice":false,"clamp":true},
     "axis":{"zindex":2,"values":[10,20,30,40,50,60,70,80,90,100,200,300,400,500,600,700,800,900,1000],"labelExpr":"indexof([10,100,1000,10000],datum.value)>=0?format(datum.value,'d'):''","offset":-61,"tickSize":-5,"labelPadding":9,"title":null,
       "labelBaseline":{"condition":[{"test":"datum.value==1000","value":"top"},{"test":"datum.value==10","value":"bottom"}],"value":"middle"}}}
  },
  "layer": [
   {"transform":[{"filter":"datum.k=='panel'"}],"mark":{"type":"rect","color":"white","zindex":0},"encoding":{"x2":{"field":"x2"},"y2":{"field":"y2"}}},
   {"transform":[{"filter":"datum.k=='frame'"}],"mark":{"type":"rect","filled":false,"color":"#555","strokeWidth":1.5},"encoding":{"x2":{"field":"x2"},"y2":{"field":"y2"}}},
   {"transform":[{"filter":"datum.k=='vg'"}],"mark":{"type":"rule","color":"#333","strokeWidth":1.5,"strokeDash":[2,3]},"encoding":{"y2":{"field":"y2"}}},
   {"transform":[{"filter":"datum.k=='hg'"}],"mark":{"type":"rule","color":"#333","strokeWidth":1.2,"strokeDash":[5,4]},"encoding":{"x2":{"field":"x2"}}},
   {"transform":[{"filter":"datum.k=='hs'"}],"mark":{"type":"rule","color":"#555","strokeWidth":1.2},"encoding":{"x2":{"field":"x2"}}},
   {"transform":[{"filter":"datum.k=='m'"}],"mark":{"type":"line","color":"#0a0acc","strokeWidth":3},"encoding":{"order":{"field":"i","type":"quantitative"}}},
   {"transform":[{"filter":"datum.k=='o'"}],"mark":{"type":"line","color":"#111","strokeWidth":1.5},"encoding":{"order":{"field":"i","type":"quantitative"}}},
   {"transform":[{"filter":"datum.k=='o'"}],"mark":{"type":"point","shape":"circle","filled":true,"fill":"white","stroke":"#222","strokeWidth":1.2,"size":30,"opacity":1}},
   {"transform":[{"filter":"datum.k=='c'"}],"mark":{"type":"line","color":"#d80000","strokeWidth":3},"encoding":{"order":{"field":"i","type":"quantitative"}}},
   {"transform":[{"filter":"datum.k=='rho'"}],"mark":{"type":"text","align":"right","baseline":"top","dx":-6,"dy":6,"fontSize":15,"color":"#444"},"encoding":{"text":{"field":"t"}}},
   {"transform":[{"filter":"datum.k=='ab'"}],"mark":{"type":"text","align":"right","baseline":"bottom","dx":-3,"dy":-3,"fontSize":12,"color":"#444"},"encoding":{"text":{"field":"t"}}}
  ]},
 {"width": 307, "height": 277,
  "data": {"values": [
   {"k":"panel","x":-0.437,"x2":11.349,"y":-1.581,"y2":10.744},
   {"k":"hbg","x":0,"x2":11,"y":0,"y2":1},{"k":"nbg","x":0,"x2":2,"y":1,"y2":10.744},
   {"k":"hl","x":2,"x2":5,"y":1,"y2":2},
   {"k":"tb","x":0.27,"x2":0.76,"y":-0.97,"y2":-0.28},
   {"k":"lt","x":5,"x2":5,"y":1,"y2":8.1},{"k":"lt","x":8,"x2":8,"y":1,"y2":8.1},{"k":"lt","x":11,"x2":11,"y":0,"y2":8.1},
   {"k":"dk","x":0,"x2":11,"y":1,"y2":1},{"k":"dk","x":2,"x2":2,"y":0,"y2":10.744},{"k":"dk","x":5,"x2":5,"y":0,"y2":1},{"k":"dk","x":8,"x2":8,"y":0,"y2":1},
   {"k":"dk","x":0,"x2":2,"y":2,"y2":2},{"k":"dk","x":0,"x2":2,"y":3,"y2":3},{"k":"dk","x":0,"x2":2,"y":4,"y2":4},{"k":"dk","x":0,"x2":2,"y":5,"y2":5},{"k":"dk","x":0,"x2":2,"y":6,"y2":6},{"k":"dk","x":0,"x2":2,"y":7,"y2":7},{"k":"dk","x":0,"x2":2,"y":8,"y2":8},{"k":"dk","x":0,"x2":2,"y":9,"y2":9},{"k":"dk","x":0,"x2":2,"y":10,"y2":10},
   {"k":"bd","x":-0.35,"x2":-0.35,"y":-1.4,"y2":10.744},
   {"k":"tsym","x":0.5,"y":-0.6,"t":"⊥"},{"k":"ttl","x":0.95,"y":-0.6,"t":"RMS=2.15%"},
   {"k":"hd","x":1,"y":0.5,"t":"N"},{"k":"hd","x":3.5,"y":0.5,"t":"ρ"},{"k":"hd","x":6.5,"y":0.5,"t":"h"},{"k":"hd","x":9.5,"y":0.5,"t":"d"},
   {"k":"cl","x":1,"y":1.5,"t":"1"},{"k":"clw","x":3.5,"y":1.5,"t":"992"},{"k":"cl","x":6.5,"y":1.5,"t":"0.15"},{"k":"cl","x":9.5,"y":1.5,"t":"0.15"},
   {"k":"cl","x":1,"y":2.5,"t":"2"},{"k":"cl","x":3.5,"y":2.5,"t":"26"},
   {"k":"big","x":5.36,"y":10.79,"t":"TS3"}
  ]},
  "encoding": {
   "x": {"field":"x","type":"quantitative","scale":{"domain":[-0.635,11.548],"nice":false,"zero":false},"axis":null},
   "y": {"field":"y","type":"quantitative","scale":{"domain":[-1.86,11.023],"nice":false,"zero":false,"reverse":true},"axis":null}
  },
  "layer": [
   {"transform":[{"filter":"datum.k=='panel'"}],"mark":{"type":"rect","color":"white","clip":true},"encoding":{"x2":{"field":"x2"},"y2":{"field":"y2"}}},
   {"transform":[{"filter":"datum.k=='hbg'"}],"mark":{"type":"rect","color":"#e8e8e8","clip":true},"encoding":{"x2":{"field":"x2"},"y2":{"field":"y2"}}},
   {"transform":[{"filter":"datum.k=='nbg'"}],"mark":{"type":"rect","color":"#f0f0f0","clip":true},"encoding":{"x2":{"field":"x2"},"y2":{"field":"y2"}}},
   {"transform":[{"filter":"datum.k=='hl'"}],"mark":{"type":"rect","color":"#3399ff"},"encoding":{"x2":{"field":"x2"},"y2":{"field":"y2"}}},
   {"transform":[{"filter":"datum.k=='focus'"}],"mark":{"type":"rect","filled":false,"color":"#333","strokeWidth":1.2},"encoding":{"x2":{"field":"x2"},"y2":{"field":"y2"}}},
   {"transform":[{"filter":"datum.k=='tb'"}],"mark":{"type":"rect","fill":"white","stroke":"#999","strokeWidth":1},"encoding":{"x2":{"field":"x2"},"y2":{"field":"y2"}}},
   {"transform":[{"filter":"datum.k=='btn'"}],"mark":{"type":"rect","fill":"#eef2f7","stroke":"#8a9bb0","strokeWidth":1,"clip":true},"encoding":{"x2":{"field":"x2"},"y2":{"field":"y2"}}},
   {"transform":[{"filter":"datum.k=='lt'"}],"mark":{"type":"rule","color":"#c4c4c4","strokeWidth":1.2,"clip":true},"encoding":{"x2":{"field":"x2"},"y2":{"field":"y2"}}},
   {"transform":[{"filter":"datum.k=='dk'"}],"mark":{"type":"rule","color":"#4a4a4a","strokeWidth":1.5,"clip":true},"encoding":{"x2":{"field":"x2"},"y2":{"field":"y2"}}},
   {"transform":[{"filter":"datum.k=='bd'"}],"mark":{"type":"rule","color":"#1e3348","strokeWidth":2.5},"encoding":{"x2":{"field":"x2"},"y2":{"field":"y2"}}},
   {"transform":[{"filter":"datum.k=='tsym'"}],"mark":{"type":"text","fontSize":16,"color":"#333"},"encoding":{"text":{"field":"t"}}},
   {"transform":[{"filter":"datum.k=='ttl'"}],"mark":{"type":"text","align":"left","fontSize":17,"color":"#7a7a7a"},"encoding":{"text":{"field":"t"}}},
   {"transform":[{"filter":"datum.k=='hd'||datum.k=='cl'"}],"mark":{"type":"text","fontSize":16,"fontWeight":"bold","color":"#1a1a1a"},"encoding":{"text":{"field":"t"}}},
   {"transform":[{"filter":"datum.k=='clw'"}],"mark":{"type":"text","fontSize":16,"fontWeight":"bold","color":"white"},"encoding":{"text":{"field":"t"}}},
   {"transform":[{"filter":"datum.k=='big'"}],"mark":{"type":"text","font":"DejaVu Serif","fontSize":78,"baseline":"alphabetic","color":"black"},"encoding":{"text":{"field":"t"}}}
  ]},
 {"width": 314, "height": 277,
  "data": {"values": [
   {"k":"panel","x":0.0361,"x2":1.7434,"y":6.021,"y2":1060},
   {"k":"frame","x":0.1,"x2":1,"y":10,"y2":1000},
   {"k":"vg","x":0.2,"y":10,"y2":1000},{"k":"vg","x":0.5,"y":10,"y2":1000},
   {"k":"hg","x":0.1,"x2":1,"y":20},{"k":"hg","x":0.1,"x2":1,"y":50},{"k":"hg","x":0.1,"x2":1,"y":200},{"k":"hg","x":0.1,"x2":1,"y":500},
   {"k":"hs","x":0.1,"x2":1,"y":100},
   {"k":"m","i":0,"x":0.052,"y":577},{"k":"m","i":1,"x":0.412,"y":577},{"k":"m","i":2,"x":0.412,"y":1.93},{"k":"m","i":3,"x":1.74,"y":1.93},
   {"k":"o","i":0,"x":0.3,"y":486},{"k":"o","i":1,"x":0.4,"y":400},{"k":"o","i":2,"x":0.5,"y":322},{"k":"o","i":3,"x":0.8,"y":163},{"k":"o","i":4,"x":1,"y":76},
   {"k":"c","i":0,"x":0.3,"y":495},{"k":"c","i":1,"x":0.4,"y":395},{"k":"c","i":2,"x":0.5,"y":330},{"k":"c","i":3,"x":0.6,"y":268},{"k":"c","i":4,"x":0.7,"y":212},{"k":"c","i":5,"x":0.8,"y":165},{"k":"c","i":6,"x":0.9,"y":118},{"k":"c","i":7,"x":1,"y":82},{"k":"c","i":8,"x":1.13,"y":52},
   {"k":"rho","x":1,"y":1000,"t":"ρ ᵃ"},{"k":"ab","x":1,"y":10,"t":"AB/3"}
  ]},
  "encoding": {
   "x": {"field":"x","type":"quantitative","scale":{"type":"log","domain":[0.03379,2.1544],"nice":false,"clamp":true},
     "axis":{"zindex":2,"values":[0.1,0.2,0.3,0.4,0.5,0.6,0.7,0.8,0.9,1],"labelExpr":"datum.value==0.1?'0.1':datum.value==1?'1':''","offset":-32,"tickSize":-5,"labelPadding":9,"title":null}},
   "y": {"field":"y","type":"quantitative","scale":{"type":"log","domain":[5.355,1192],"nice":false,"clamp":true},
     "axis":{"zindex":2,"values":[10,20,30,40,50,60,70,80,90,100,200,300,400,500,600,700,800,900,1000],"labelExpr":"indexof([10,100,1000,10000],datum.value)>=0?format(datum.value,'d'):''","offset":-82,"tickSize":-5,"labelPadding":9,"title":null,
       "labelBaseline":{"condition":[{"test":"datum.value==1000","value":"top"},{"test":"datum.value==10","value":"bottom"}],"value":"middle"}}}
  },
  "layer": [
   {"transform":[{"filter":"datum.k=='panel'"}],"mark":{"type":"rect","color":"white","zindex":0},"encoding":{"x2":{"field":"x2"},"y2":{"field":"y2"}}},
   {"transform":[{"filter":"datum.k=='frame'"}],"mark":{"type":"rect","filled":false,"color":"#555","strokeWidth":1.5},"encoding":{"x2":{"field":"x2"},"y2":{"field":"y2"}}},
   {"transform":[{"filter":"datum.k=='vg'"}],"mark":{"type":"rule","color":"#333","strokeWidth":1.5,"strokeDash":[2,3]},"encoding":{"y2":{"field":"y2"}}},
   {"transform":[{"filter":"datum.k=='hg'"}],"mark":{"type":"rule","color":"#333","strokeWidth":1.2,"strokeDash":[5,4]},"encoding":{"x2":{"field":"x2"}}},
   {"transform":[{"filter":"datum.k=='hs'"}],"mark":{"type":"rule","color":"#555","strokeWidth":1.2},"encoding":{"x2":{"field":"x2"}}},
   {"transform":[{"filter":"datum.k=='m'"}],"mark":{"type":"line","color":"#0a0acc","strokeWidth":3},"encoding":{"order":{"field":"i","type":"quantitative"}}},
   {"transform":[{"filter":"datum.k=='o'"}],"mark":{"type":"line","color":"#111","strokeWidth":1.5},"encoding":{"order":{"field":"i","type":"quantitative"}}},
   {"transform":[{"filter":"datum.k=='o'"}],"mark":{"type":"point","shape":"circle","filled":true,"fill":"white","stroke":"#222","strokeWidth":1.2,"size":30,"opacity":1}},
   {"transform":[{"filter":"datum.k=='c'"}],"mark":{"type":"line","color":"#d80000","strokeWidth":3},"encoding":{"order":{"field":"i","type":"quantitative"}}},
   {"transform":[{"filter":"datum.k=='rho'"}],"mark":{"type":"text","align":"right","baseline":"top","dx":-6,"dy":6,"fontSize":15,"color":"#444"},"encoding":{"text":{"field":"t"}}},
   {"transform":[{"filter":"datum.k=='ab'"}],"mark":{"type":"text","align":"right","baseline":"bottom","dx":-3,"dy":-3,"fontSize":12,"color":"#444"},"encoding":{"text":{"field":"t"}}}
  ]},
 {"width": 303, "height": 277,
  "data": {"values": [
   {"k":"panel","x":-0.234,"x2":11.6,"y":-1.442,"y2":10.884},
   {"k":"hbg","x":0,"x2":11,"y":0,"y2":1},{"k":"nbg","x":0,"x2":2,"y":1,"y2":10.884},
   {"k":"hl","x":2,"x2":5,"y":1,"y2":2},
   {"k":"tb","x":0.27,"x2":0.76,"y":-0.97,"y2":-0.28},
   {"k":"btn","x":7.27,"x2":9.34,"y":-0.84,"y2":-0.05},{"k":"btn","x":9.5,"x2":11.6,"y":-0.84,"y2":-0.05},
   {"k":"lt","x":5,"x2":5,"y":1,"y2":7.8},{"k":"lt","x":8,"x2":8,"y":1,"y2":7.8},
   {"k":"dk","x":0,"x2":11,"y":1,"y2":1},{"k":"dk","x":2,"x2":2,"y":0,"y2":10.884},{"k":"dk","x":5,"x2":5,"y":0,"y2":1},{"k":"dk","x":8,"x2":8,"y":0,"y2":1},{"k":"dk","x":11,"x2":11,"y":0,"y2":1},
   {"k":"dk","x":0,"x2":2,"y":2,"y2":2},{"k":"dk","x":0,"x2":2,"y":3,"y2":3},{"k":"dk","x":0,"x2":2,"y":4,"y2":4},{"k":"dk","x":0,"x2":2,"y":5,"y2":5},{"k":"dk","x":0,"x2":2,"y":6,"y2":6},{"k":"dk","x":0,"x2":2,"y":7,"y2":7},{"k":"dk","x":0,"x2":2,"y":8,"y2":8},{"k":"dk","x":0,"x2":2,"y":9,"y2":9},{"k":"dk","x":0,"x2":2,"y":10,"y2":10},
   {"k":"bd","x":-0.18,"x2":-0.18,"y":-1.3,"y2":10.884},
   {"k":"tsym","x":0.5,"y":-0.6,"t":"⊥"},{"k":"ttl","x":0.95,"y":-0.6,"t":"RMS=4.56%"},
   {"k":"hd","x":1,"y":0.5,"t":"N"},{"k":"hd","x":3.5,"y":0.5,"t":"ρ"},{"k":"hd","x":6.5,"y":0.5,"t":"h"},{"k":"hd","x":9.5,"y":0.5,"t":"d"},
   {"k":"cl","x":1,"y":1.5,"t":"1"},{"k":"clw","x":3.5,"y":1.5,"t":"577"},{"k":"cl","x":6.5,"y":1.5,"t":"0.412"},{"k":"cl","x":9.5,"y":1.5,"t":"0.412"},
   {"k":"cl","x":1,"y":2.5,"t":"2"},{"k":"cl","x":3.5,"y":2.5,"t":"1.93"},
   {"k":"big","x":5.47,"y":10.74,"t":"US5"}
  ]},
  "encoding": {
   "x": {"field":"x","type":"quantitative","scale":{"domain":[-0.391,11.445],"nice":false,"zero":false},"axis":null},
   "y": {"field":"y","type":"quantitative","scale":{"domain":[-1.721,11.163],"nice":false,"zero":false,"reverse":true},"axis":null}
  },
  "layer": [
   {"transform":[{"filter":"datum.k=='panel'"}],"mark":{"type":"rect","color":"white","clip":true},"encoding":{"x2":{"field":"x2"},"y2":{"field":"y2"}}},
   {"transform":[{"filter":"datum.k=='hbg'"}],"mark":{"type":"rect","color":"#e8e8e8","clip":true},"encoding":{"x2":{"field":"x2"},"y2":{"field":"y2"}}},
   {"transform":[{"filter":"datum.k=='nbg'"}],"mark":{"type":"rect","color":"#f0f0f0","clip":true},"encoding":{"x2":{"field":"x2"},"y2":{"field":"y2"}}},
   {"transform":[{"filter":"datum.k=='hl'"}],"mark":{"type":"rect","color":"#3399ff"},"encoding":{"x2":{"field":"x2"},"y2":{"field":"y2"}}},
   {"transform":[{"filter":"datum.k=='focus'"}],"mark":{"type":"rect","filled":false,"color":"#333","strokeWidth":1.2},"encoding":{"x2":{"field":"x2"},"y2":{"field":"y2"}}},
   {"transform":[{"filter":"datum.k=='tb'"}],"mark":{"type":"rect","fill":"white","stroke":"#999","strokeWidth":1},"encoding":{"x2":{"field":"x2"},"y2":{"field":"y2"}}},
   {"transform":[{"filter":"datum.k=='btn'"}],"mark":{"type":"rect","fill":"#eef2f7","stroke":"#8a9bb0","strokeWidth":1,"clip":true},"encoding":{"x2":{"field":"x2"},"y2":{"field":"y2"}}},
   {"transform":[{"filter":"datum.k=='lt'"}],"mark":{"type":"rule","color":"#c4c4c4","strokeWidth":1.2,"clip":true},"encoding":{"x2":{"field":"x2"},"y2":{"field":"y2"}}},
   {"transform":[{"filter":"datum.k=='dk'"}],"mark":{"type":"rule","color":"#4a4a4a","strokeWidth":1.5,"clip":true},"encoding":{"x2":{"field":"x2"},"y2":{"field":"y2"}}},
   {"transform":[{"filter":"datum.k=='bd'"}],"mark":{"type":"rule","color":"#1e3348","strokeWidth":2.5},"encoding":{"x2":{"field":"x2"},"y2":{"field":"y2"}}},
   {"transform":[{"filter":"datum.k=='tsym'"}],"mark":{"type":"text","fontSize":16,"color":"#333"},"encoding":{"text":{"field":"t"}}},
   {"transform":[{"filter":"datum.k=='ttl'"}],"mark":{"type":"text","align":"left","fontSize":17,"color":"#7a7a7a"},"encoding":{"text":{"field":"t"}}},
   {"transform":[{"filter":"datum.k=='hd'||datum.k=='cl'"}],"mark":{"type":"text","fontSize":16,"fontWeight":"bold","color":"#1a1a1a"},"encoding":{"text":{"field":"t"}}},
   {"transform":[{"filter":"datum.k=='clw'"}],"mark":{"type":"text","fontSize":16,"fontWeight":"bold","color":"white"},"encoding":{"text":{"field":"t"}}},
   {"transform":[{"filter":"datum.k=='big'"}],"mark":{"type":"text","font":"DejaVu Serif","fontSize":78,"baseline":"alphabetic","color":"black"},"encoding":{"text":{"field":"t"}}}
  ]}
]
}
